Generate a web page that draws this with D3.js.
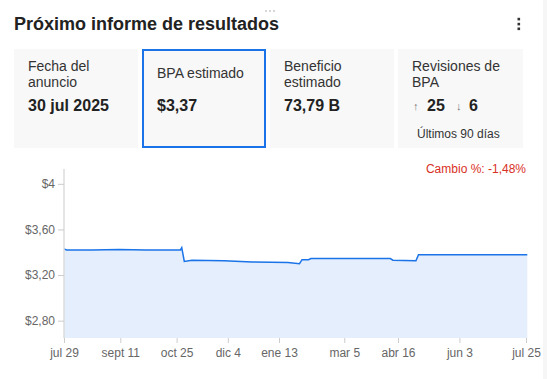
<!DOCTYPE html>
<html><head><meta charset="utf-8">
<script src="https://cdn.jsdelivr.net/npm/d3@7"></script>
<style>
html,body{margin:0;padding:0;background:#fff;}
svg{display:block;font-family:"Liberation Sans",Arial,sans-serif;}
</style></head>
<body>
<svg id="c" width="547" height="379"></svg>
<script>
// ---- data ----
const title = "Próximo informe de resultados";
const cardLabels = [["Fecha del","anuncio"],["BPA estimado"],["Beneficio","estimado"],["Revisiones de","BPA"]];
const cardValues = ["30 jul 2025","$3,37","73,79 B",""];
const revisionsUp = 25;
const revisionsDown = 6;
const revisionsNote = "Últimos 90 días";
const changeLabel = "Cambio %: -1,48%";
const dates = ["2024-07-29","2024-07-31","2024-08-20","2024-09-10","2024-10-01","2024-10-28","2024-10-29","2024-10-31","2024-11-06","2024-12-01","2024-12-23","2025-01-20","2025-01-29","2025-01-31","2025-02-05","2025-02-07","2025-04-10","2025-04-12","2025-04-30","2025-05-02","2025-07-26"];
const eps = [3.43,3.42,3.42,3.425,3.42,3.42,3.44,3.32,3.33,3.325,3.315,3.31,3.30,3.335,3.335,3.345,3.345,3.33,3.325,3.378,3.378];
const yTicks = [2.8,3.2,3.6,4];
const yTickLabels = ["$2,80","$3,20","$3,60","$4"];
const xTickDates = ["2024-07-29","2024-09-11","2024-10-25","2024-12-04","2025-01-13","2025-03-05","2025-04-16","2025-06-03","2025-07-25"];
const xTickLabels = ["jul 29","sept 11","oct 25","dic 4","ene 13","mar 5","abr 16","jun 3","jul 25"];

const svg = d3.select("#c");
const parse = d3.utcParse("%Y-%m-%d");

// right scrollbar strip
svg.append("rect").attr("x",543).attr("y",0).attr("width",4).attr("height",379).attr("fill","#f6f6f6");

// drag handle
svg.selectAll("circle.h").data([266,270,274]).join("circle").attr("cx",d=>d).attr("cy",11).attr("r",1).attr("fill","#c8c8c8");

// title
svg.append("text").attr("x",14).attr("y",30).attr("font-size",18).attr("font-weight","bold").attr("fill","#222").text(title);
// kebab
svg.selectAll("rect.k").data([19,24,28.7]).join("rect").attr("x",517.5).attr("y",d=>d-1.2).attr("width",2.6).attr("height",2.6).attr("fill","#333");

// cards
const cardX = [14,142,270,398];
const cardW = 124;
const cards = svg.selectAll("g.card").data(cardX).join("g").attr("transform",d=>`translate(${d},49)`);
cards.append("rect").attr("width",(d,i)=> i===3?125:cardW).attr("height",99).attr("fill","#f8f8f8");
svg.append("rect").attr("x",143).attr("y",50).attr("width",122).attr("height",97).attr("fill","none").attr("stroke","#1a73e8").attr("stroke-width",2);

cards.each(function(d,i){
  const g = d3.select(this);
  const lab = cardLabels[i];
  const tx = 14;
  if(lab.length===1){
    g.append("text").attr("x",tx+1).attr("y",29).attr("font-size",14).attr("fill","#333").text(lab[0]);
  } else {
    lab.forEach((t,j)=>g.append("text").attr("x",tx).attr("y",22+16*j).attr("font-size",14).attr("fill","#333").text(t));
  }
  if(cardValues[i]) g.append("text").attr("x",tx+(i===1?1:0)).attr("y",62).attr("font-size",16).attr("font-weight","bold").attr("fill","#222").text(cardValues[i]);
});
// revisions
const rg = svg.append("g").attr("transform","translate(398,49)");
rg.append("text").attr("x",15).attr("y",61).attr("font-size",11).attr("fill","#777").text("↑");
rg.append("text").attr("x",29).attr("y",62).attr("font-size",16).attr("font-weight","bold").attr("fill","#222").text(revisionsUp);
rg.append("text").attr("x",58).attr("y",61).attr("font-size",11).attr("fill","#777").text("↓");
rg.append("text").attr("x",71).attr("y",62).attr("font-size",16).attr("font-weight","bold").attr("fill","#222").text(revisionsDown);
rg.append("text").attr("x",19).attr("y",89).attr("font-size",12).attr("fill","#333").text(revisionsNote);

// chart
const x = d3.scaleUtc().domain([parse("2024-07-29"),parse("2025-07-25")]).range([64,526]);
const y = d3.scaleLinear().domain([2.648,4.13]).range([338,169]);
const data = dates.map((d,i)=>({d:parse(d),v:eps[i]}));

svg.append("path").datum(data)
  .attr("d",d3.area().x(p=>x(p.d)).y0(y(2.648)).y1(p=>y(p.v)))
  .attr("fill","#e4eefc");
svg.append("path").datum(data)
  .attr("d",d3.line().x(p=>x(p.d)).y(p=>y(p.v)))
  .attr("fill","none").attr("stroke","#1a73e8").attr("stroke-width",1.5);

// y axis
const ya = svg.append("g").attr("transform","translate(64,0)")
  .call(d3.axisLeft(y).tickValues(yTicks).tickFormat((d,i)=>yTickLabels[i]).tickSize(6).tickPadding(3));
ya.select(".domain").attr("stroke","#dcdcdc").attr("stroke-width",1.5).attr("d","M0,169V338");
ya.selectAll(".tick line").attr("stroke","#ccc");
ya.selectAll(".tick text").attr("fill","#666").attr("font-size",12).attr("font-family","Liberation Sans, Arial, sans-serif");

// x axis
const xa = svg.append("g").attr("transform","translate(0,338)")
  .call(d3.axisBottom(x).tickValues(xTickDates.map(parse)).tickFormat((d,i)=>xTickLabels[i]).tickSize(5).tickPadding(5));
xa.select(".domain").remove();
xa.selectAll(".tick line").attr("stroke","#ccc");
xa.selectAll(".tick text").attr("fill","#666").attr("font-size",12).attr("font-family","Liberation Sans, Arial, sans-serif");

// change label
svg.append("text").attr("x",526).attr("y",173).attr("text-anchor","end").attr("font-size",12).attr("fill","#d93025").text(changeLabel);
</script>
</body></html>
